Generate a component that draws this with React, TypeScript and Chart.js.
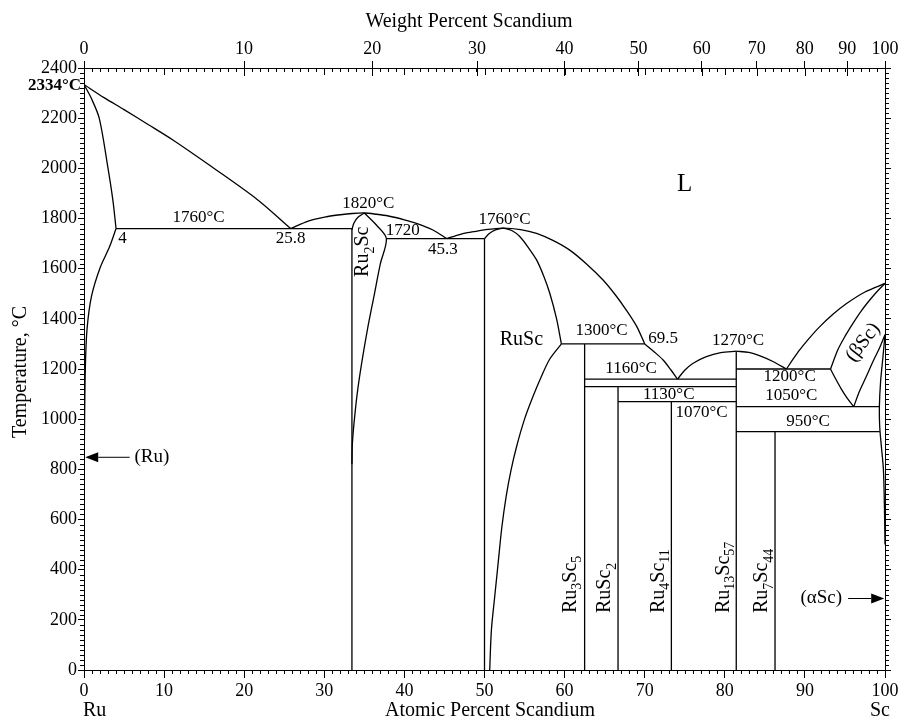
import React, { useEffect, useRef } from "react";
import { Chart, registerables } from "chart.js";

Chart.register(...registerables);

// ---------- Data (atomic % Sc, temperature °C) ----------
const M_RU = 101.07;
const M_SC = 44.956;
const WT_TICKS = [0, 10, 20, 30, 40, 50, 60, 70, 80, 90, 100];
const Y_TICK_STEP = 200;
const X_TICK_STEP = 10;

const liqRu = [[0, 2334], [2.5, 2282], [5, 2234], [8, 2175], [11.1, 2113], [16, 2005], [21.7, 1874], [25.8, 1760]];
const solRu = [[0, 2334], [0.9, 2280], [1.9, 2200], [3.0, 2000], [3.6, 1874], [4, 1760]];
const solvRu = [[4, 1760], [3.2, 1688], [2.0, 1603], [0.92, 1488], [0.37, 1356], [0.17, 1209], [0.08, 1024], [0.03, 850], [0, 700]];
const eut1760 = [[4, 1760], [33.45, 1760]];
const liqRu2Sc = [[25.8, 1760], [28, 1790], [30.3, 1807], [32, 1815], [33.5, 1820], [35, 1822], [36.5, 1817], [38, 1810], [40, 1795], [41.5, 1781], [43.5, 1755], [45.3, 1720]];
const ru2scLeft = [[35, 1822], [34.2, 1805], [33.7, 1782], [33.45, 1755]];
const ru2scVert = [[33.45, 1760], [33.45, 0]];
const ru2scRight = [[35, 1822], [36.5, 1774], [37.75, 1720], [37.0, 1620], [36.2, 1490], [35.4, 1360], [34.7, 1230], [34.1, 1100], [33.7, 980], [33.5, 900], [33.45, 820]];
const eut1720 = [[37.75, 1720], [50, 1720]];
const ruScVert = [[50, 1720], [50, 0]];
const liqRuSc = [[45.3, 1720], [47, 1737], [48.2, 1745], [50, 1755], [52.3, 1762], [54.5, 1756], [56.5, 1741], [58.6, 1712], [60.6, 1675], [62.7, 1620], [64.8, 1555], [66.3, 1497], [67.7, 1435], [69, 1370], [70, 1300]];
const ruScTop = [[50, 1720], [50.6, 1740], [51.3, 1754], [52.3, 1762]];
const ruScRightUpper = [[52.3, 1762], [53.4, 1752], [54.4, 1728], [55.5, 1683], [56.5, 1635], [57.4, 1570], [58.15, 1502], [59, 1400], [59.6, 1300]];
const ruScRightLower = [[59.6, 1300], [58.15, 1240], [57.1, 1170], [56.05, 1090], [55.0, 1000], [54.0, 890], [53.3, 795], [52.7, 691], [52.15, 565], [51.7, 425], [51.25, 285], [50.86, 159], [50.65, 0]];
const per1300 = [[59.6, 1300], [70, 1300]];
const ru3sc5Vert = [[62.5, 1300], [62.5, 0]];
const liqTo1160 = [[70, 1300], [71.2, 1268], [72.3, 1236], [73.3, 1195], [74.1, 1160]];
const line1160 = [[62.5, 1160], [81.43, 1160]];
const line1130 = [[62.5, 1130], [81.43, 1130]];
const ruSc2Vert = [[66.67, 1130], [66.67, 0]];
const line1070 = [[66.67, 1070], [81.43, 1070]];
const ru4sc11Vert = [[73.33, 1070], [73.33, 0]];
const liqTo1270L = [[74.1, 1160], [75, 1195], [76, 1222], [77.7, 1249], [79.5, 1265], [81.43, 1271]];
const liqTo1270R = [[81.43, 1271], [83, 1266], [84.4, 1252], [86, 1230], [87.7, 1200]];
const ru13sc57Vert = [[81.43, 1271], [81.43, 0]];
const line1200 = [[81.43, 1200], [93.2, 1200]];
const line1050 = [[81.43, 1050], [99.25, 1050]];
const line950 = [[81.43, 950], [99.35, 950]];
const ru7sc44Vert = [[86.27, 950], [86.27, 0]];
const liqSc = [[87.7, 1200], [88.5, 1238], [89.3, 1274], [90.5, 1321], [91.8, 1367], [93.5, 1418], [95.2, 1461], [97.5, 1507], [100, 1541]];
const solSc = [[93.2, 1200], [94.1, 1276], [95, 1330], [96.0, 1382], [97, 1430], [98.1, 1475], [99.1, 1512], [100, 1541]];
const bScLeft = [[93.2, 1200], [93.8, 1163], [94.55, 1120], [95.3, 1083], [96.1, 1050]];
const bScRight = [[96.1, 1050], [96.8, 1110], [97.65, 1169], [98.5, 1230], [99.3, 1283], [100, 1337]];
const aScSolvus = [[100, 1337], [99.75, 1250], [99.45, 1150], [99.3, 1050], [99.34, 970], [99.55, 890], [99.8, 800], [99.93, 650], [100, 500]];

const curves = [liqRu, solRu, solvRu, liqRu2Sc, ru2scLeft, ru2scRight, liqRuSc, ruScTop, ruScRightUpper, ruScRightLower, liqTo1160, liqTo1270L, liqTo1270R, liqSc, solSc, bScLeft, bScRight, aScSolvus];
const straights = [eut1760, ru2scVert, eut1720, ruScVert, per1300, ru3sc5Vert, line1160, line1130, ruSc2Vert, line1070, ru4sc11Vert, ru13sc57Vert, line1200, line1050, line950, ru7sc44Vert];

// temperature / composition annotations: [text, at%, °C]
const tempLabels: [string, number, number][] = [
  ["1760°C", 14.3, 1803], ["4", 4.8, 1721], ["25.8", 25.8, 1722], ["1820°C", 35.5, 1861],
  ["1720", 39.8, 1754], ["45.3", 44.8, 1677], ["1760°C", 52.5, 1797], ["1300°C", 64.6, 1352],
  ["69.5", 72.3, 1323], ["1270°C", 81.65, 1313], ["1160°C", 68.3, 1203], ["1130°C", 73.0, 1100],
  ["1070°C", 77.1, 1026], ["1200°C", 88.1, 1169], ["1050°C", 88.3, 1096], ["950°C", 90.4, 990],
];
// phase names: [text, at%, °C]
const phaseLabels: [string, number, number][] = [["L", 75.0, 1934], ["RuSc", 54.6, 1316]];
// vertical compound names (text starts at the given temperature): [text, at%, °C]
const compoundLabels: [string, number, number][] = [
  ["Ru_{2}Sc", 34.6, 1567], ["Ru_{3}Sc_{5}", 60.5, 227], ["RuSc_{2}", 64.8, 227],
  ["Ru_{4}Sc_{11}", 71.5, 227], ["Ru_{13}Sc_{57}", 79.6, 227], ["Ru_{7}Sc_{44}", 84.4, 227],
];
const betaScLabel: [string, number, number] = ["(βSc)", 97.1, 1310];
const ruArrow = { text: "(Ru)", from: [5.7, 848], to: [0.15, 848], textAt: 6.3 };
const aScArrow = { text: "(αSc)", from: [95.4, 285], to: [99.9, 285], textAt: 92.05 };
const meltRu = { text: "2334°C", t: 2334 };

const FONT = "'Liberation Serif', 'Times New Roman', Times, serif";

function wtToAt(w: number) {
  if (w >= 100) return 100;
  const a = w / M_SC;
  const b = (100 - w) / M_RU;
  return (a / (a + b)) * 100;
}

function parseRich(s: string) {
  const parts: { t: string; sub: boolean }[] = [];
  const re = /_\{([^}]*)\}/g;
  let last = 0;
  let m: RegExpExecArray | null;
  while ((m = re.exec(s))) {
    if (m.index > last) parts.push({ t: s.slice(last, m.index), sub: false });
    parts.push({ t: m[1], sub: true });
    last = re.lastIndex;
  }
  if (last < s.length) parts.push({ t: s.slice(last), sub: false });
  return parts;
}

function drawRich(ctx: CanvasRenderingContext2D, s: string, x: number, y: number, size: number, rot: number, align: "left" | "center") {
  const parts = parseRich(s);
  const subSize = Math.round(size * 0.7);
  ctx.save();
  ctx.translate(x, y);
  ctx.rotate(rot);
  ctx.textAlign = "left";
  ctx.textBaseline = "alphabetic";
  let total = 0;
  const widths = parts.map((p) => {
    ctx.font = `${p.sub ? subSize : size}px ${FONT}`;
    const w = ctx.measureText(p.t).width;
    total += w;
    return w;
  });
  let cur = align === "center" ? -total / 2 : 0;
  const base = size * 0.35;
  parts.forEach((p, i) => {
    ctx.font = `${p.sub ? subSize : size}px ${FONT}`;
    ctx.fillText(p.t, cur, p.sub ? base + size * 0.28 : base);
    cur += widths[i];
  });
  ctx.restore();
}

function line(ctx: CanvasRenderingContext2D, x1: number, y1: number, x2: number, y2: number) {
  ctx.beginPath();
  ctx.moveTo(x1, y1);
  ctx.lineTo(x2, y2);
  ctx.stroke();
}

function arrow(ctx: CanvasRenderingContext2D, x1: number, y1: number, x2: number, y2: number) {
  const dir = Math.sign(x2 - x1);
  const L = 13;
  const W = 5;
  line(ctx, x1, y1, x2 - dir * L, y2);
  ctx.beginPath();
  ctx.moveTo(x2, y2);
  ctx.lineTo(x2 - dir * L, y2 - W);
  ctx.lineTo(x2 - dir * L, y2 + W);
  ctx.closePath();
  ctx.fill();
}

const decorPlugin = {
  id: "decor",
  afterDraw(chart: any) {
    const ctx: CanvasRenderingContext2D = chart.ctx;
    const xs = chart.scales.x;
    const ys = chart.scales.y;
    const x2 = chart.scales.x2;
    const ca = chart.chartArea;
    ctx.save();
    ctx.strokeStyle = "#000";
    ctx.fillStyle = "#000";
    ctx.lineWidth = 1;
    // minor ticks
    for (let i = 0; i <= 100; i++) {
      const px = Math.round(xs.getPixelForValue(i)) + 0.5;
      if (i % X_TICK_STEP !== 0) line(ctx, px, ca.bottom, px, ca.bottom + 4);
      line(ctx, px, ca.top, px, ca.top + (i % X_TICK_STEP === 0 ? 7 : 4));
    }
    x2.ticks.forEach((t: any) => {
      const px = Math.round(x2.getPixelForValue(t.value)) + 0.5;
      line(ctx, px, ca.top, px, ca.top + 8);
    });
    for (let T = 0; T <= 2400; T += 20) {
      const py = Math.round(ys.getPixelForValue(T)) + 0.5;
      if (T % Y_TICK_STEP !== 0) {
        line(ctx, ca.left, py, ca.left - 4, py);
        line(ctx, ca.right, py, ca.right + 4, py);
      }
    }
    // arrows
    arrow(ctx, xs.getPixelForValue(ruArrow.from[0]), ys.getPixelForValue(ruArrow.from[1]), xs.getPixelForValue(ruArrow.to[0]), ys.getPixelForValue(ruArrow.to[1]));
    arrow(ctx, xs.getPixelForValue(aScArrow.from[0]), ys.getPixelForValue(aScArrow.from[1]), xs.getPixelForValue(aScArrow.to[0]), ys.getPixelForValue(aScArrow.to[1]));

    ctx.textBaseline = "middle";
    // temperature labels
    ctx.font = `17px ${FONT}`;
    ctx.textAlign = "center";
    tempLabels.forEach(([s, a, t]) => {
      ctx.fillText(s, xs.getPixelForValue(a), ys.getPixelForValue(t));
    });
    // phase names
    phaseLabels.forEach(([s, a, t]) => {
      ctx.font = `${s === "L" ? 25 : 20}px ${FONT}`;
      ctx.fillText(s, xs.getPixelForValue(a), ys.getPixelForValue(t));
    });
    ctx.font = `19px ${FONT}`;
    ctx.textAlign = "left";
    ctx.fillText(ruArrow.text, xs.getPixelForValue(ruArrow.textAt), ys.getPixelForValue(ruArrow.from[1]));
    ctx.textAlign = "center";
    ctx.fillText(aScArrow.text, xs.getPixelForValue(aScArrow.textAt), ys.getPixelForValue(aScArrow.from[1]));
    // compounds
    compoundLabels.forEach(([s, a, t]) => {
      drawRich(ctx, s, xs.getPixelForValue(a), ys.getPixelForValue(t), 20, -Math.PI / 2, "left");
    });
    drawRich(ctx, betaScLabel[0], xs.getPixelForValue(betaScLabel[1]), ys.getPixelForValue(betaScLabel[2]), 20, (-52 * Math.PI) / 180, "center");
    // Ru melting point
    ctx.font = `bold 17px ${FONT}`;
    ctx.textAlign = "right";
    ctx.textBaseline = "middle";
    ctx.fillText(meltRu.text, ca.left - 3, ys.getPixelForValue(meltRu.t) + 1);
    // axis titles
    ctx.font = `20px ${FONT}`;
    ctx.textAlign = "center";
    ctx.fillText("Weight Percent Scandium", 469, 22);
    ctx.fillText("Atomic Percent Scandium", 490, 711);
    ctx.textAlign = "left";
    ctx.fillText("Ru", ca.left - 1, 711);
    ctx.textAlign = "right";
    ctx.fillText("Sc", ca.right + 5, 711);
    ctx.save();
    ctx.translate(21, 372);
    ctx.rotate(-Math.PI / 2);
    ctx.textAlign = "center";
    ctx.fillText("Temperature, °C", 0, 0);
    ctx.restore();
    ctx.restore();
  },
};

export default function App() {
  const ref = useRef<HTMLCanvasElement | null>(null);
  useEffect(() => {
    document.body.style.margin = "0";
    const canvas = ref.current;
    if (!canvas) return;
    const toPts = (arr: number[][]) => arr.map(([x, y]) => ({ x, y }));
    const ds = [
      ...curves.map((c) => ({ data: toPts(c), tension: 0.3 })),
      ...straights.map((c) => ({ data: toPts(c), tension: 0 })),
    ].map((d) => ({
      ...d,
      showLine: true,
      pointRadius: 0,
      borderColor: "#000",
      borderWidth: 1.3,
      fill: false,
      xAxisID: "x",
      yAxisID: "y",
    }));
    const tickFont = { family: FONT, size: 18 };
    const chart = new Chart(canvas, {
      type: "scatter",
      data: { datasets: ds as any },
      plugins: [decorPlugin as any],
      options: {
        animation: false,
        responsive: false,
        devicePixelRatio: 1,
        layout: { padding: 0 },
        plugins: { legend: { display: false }, tooltip: { enabled: false } },
        scales: {
          x: {
            type: "linear",
            position: "bottom",
            min: 0,
            max: 100,
            afterFit: (s: any) => { s.height = 54; },
            ticks: { stepSize: X_TICK_STEP, color: "#000", font: tickFont, padding: 2, maxRotation: 0, autoSkip: false, callback: (v: any) => String(v) },
            grid: { drawOnChartArea: false, drawTicks: true, tickLength: 8, color: "#000" },
            border: { display: true, color: "#000", width: 1 },
          },
          x2: {
            type: "linear",
            position: "top",
            min: 0,
            max: 100,
            afterFit: (s: any) => { s.height = 68; },
            afterBuildTicks: (s: any) => { s.ticks = WT_TICKS.map((w) => ({ value: wtToAt(w) })); },
            ticks: { color: "#000", font: tickFont, padding: 1, maxRotation: 0, autoSkip: false, callback: (_v: any, i: number) => String(WT_TICKS[i]) },
            grid: { drawOnChartArea: false, drawTicks: true, tickLength: 7, color: "#000" },
            border: { display: true, color: "#000", width: 1 },
          },
          y: {
            type: "linear",
            position: "left",
            min: 0,
            max: 2400,
            afterFit: (s: any) => { s.width = 84; },
            ticks: { stepSize: Y_TICK_STEP, color: "#000", font: tickFont, padding: 1, callback: (v: any) => String(v) },
            grid: { drawOnChartArea: false, drawTicks: true, tickLength: 6, color: "#000" },
            border: { display: true, color: "#000", width: 1 },
          },
          y2: {
            type: "linear",
            position: "right",
            min: 0,
            max: 2400,
            afterFit: (s: any) => { s.width = 22; },
            ticks: { stepSize: Y_TICK_STEP, display: false },
            grid: { drawOnChartArea: false, drawTicks: true, tickLength: 6, color: "#000" },
            border: { display: true, color: "#000", width: 1 },
          },
        },
      } as any,
    });
    return () => chart.destroy();
  }, []);
  return (
    <div style={{ width: 907, height: 724, background: "#fff" }}>
      <canvas ref={ref} width={907} height={724} style={{ display: "block" }} />
    </div>
  );
}
